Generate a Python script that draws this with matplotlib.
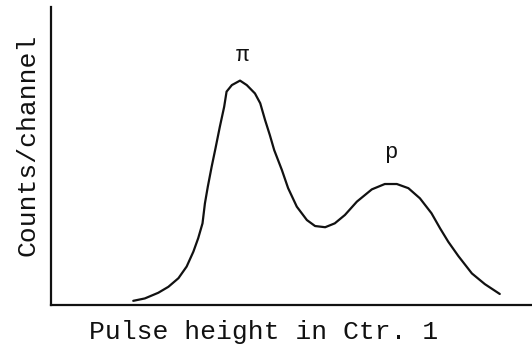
import matplotlib
matplotlib.use("Agg")
import matplotlib.pyplot as plt

# pulse height spectrum, counter 1 (arbitrary units)
channel = [17.1, 19.5, 22.3, 24.4, 26.5, 28.2, 29.6, 30.6, 31.5, 32.0, 32.6,
           33.4, 34.2, 35.1, 36.0, 36.5, 37.6, 39.3, 40.7, 42.4, 43.5, 44.5,
           45.5, 46.4, 48.0, 49.3, 51.1, 53.2, 54.9, 57.0, 59.0, 61.1, 63.6,
           66.7, 69.4, 71.9, 74.3, 76.7, 79.1, 80.9, 82.6, 84.7, 87.5, 90.2,
           93.3]
counts = [1.4, 2.2, 4.1, 6.1, 9.0, 12.9, 17.9, 22.4, 27.4, 34.1, 39.7,
          46.4, 52.6, 59.8, 66.5, 71.6, 73.8, 75.3, 73.8, 71.0, 67.7, 62.1,
          57.0, 52.0, 45.3, 39.2, 33.0, 28.5, 26.5, 26.1, 27.4, 30.2, 34.7,
          38.8, 40.6, 40.6, 39.2, 35.8, 30.8, 25.7, 21.2, 16.4, 10.6, 7.0,
          3.7]

peak_names = ["\u03c0", "p"]
peak_x = [39.9, 70.7]
peak_y = [83.6, 51.3]

plt.rcParams['font.family'] = ['Liberation Mono', 'DejaVu Sans Mono']

fig = plt.figure(figsize=(5.32, 3.47), dpi=100)
ax = fig.add_axes([51 / 532, 1 - 305 / 347, 1 - 51 / 532, 298 / 347])

ax.plot(channel, counts, color='#111111', lw=1.6, solid_capstyle='round',
        solid_joinstyle='round')
for name, x, y in zip(peak_names, peak_x, peak_y):
    ax.text(x, y, name, ha='center', va='center', fontsize=16, color='#111111')

ax.set_xlim(0, 100)
ax.set_ylim(0, 100)
ax.set_xticks([])
ax.set_yticks([])
for side in ['top', 'right']:
    ax.spines[side].set_visible(False)
for side in ['left', 'bottom']:
    ax.spines[side].set_linewidth(1.6)
    ax.spines[side].set_color('#111111')

fig.text(264 / 532, 1 - 332 / 347, "Pulse height in Ctr. 1", ha='center',
         va='center', fontsize=19, color='#111111')
fig.text(28 / 532, 1 - 145 / 347, "Counts/channel", ha='center',
         va='center', rotation=90, fontsize=19, color='#111111')

fig.savefig('out.png', dpi=100)
